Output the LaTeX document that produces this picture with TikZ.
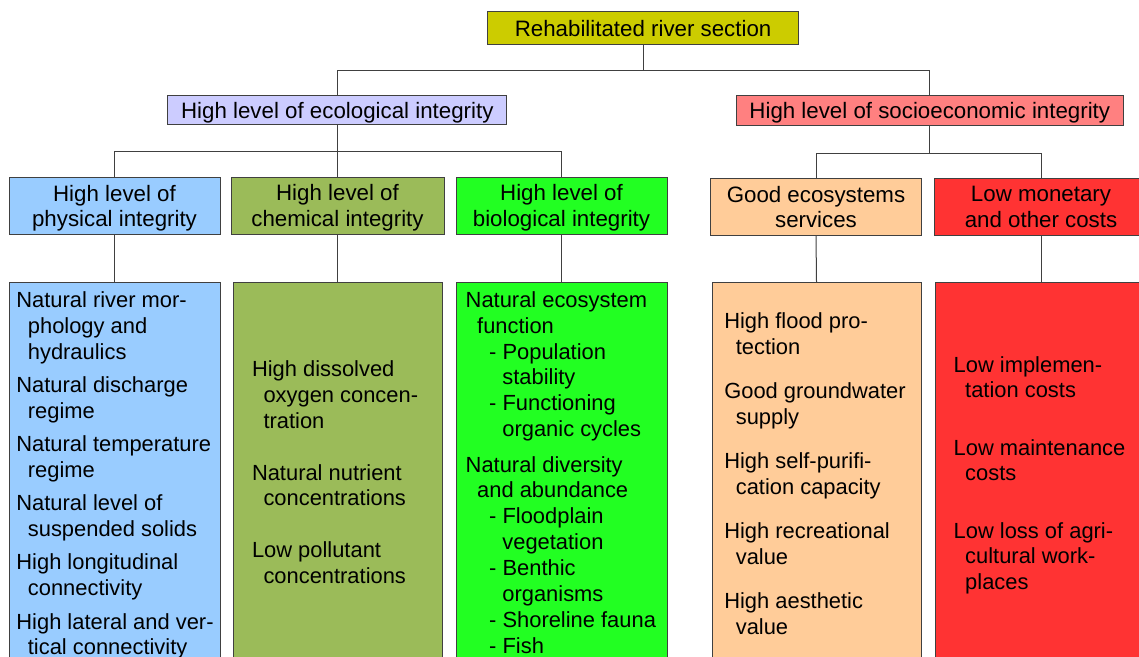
\documentclass[tikz,border=0pt]{standalone}
\usepackage{fontspec}
\setmainfont{Liberation Sans}
\usetikzlibrary{positioning}

\definecolor{rootc}{HTML}{CCCC00}
\definecolor{ecoc}{HTML}{CCCCFF}
\definecolor{socioc}{HTML}{FF8080}
\definecolor{physc}{HTML}{99CCFF}
\definecolor{chemc}{HTML}{9BBB59}
\definecolor{bioc}{HTML}{22FF22}
\definecolor{servc}{HTML}{FFCC99}
\definecolor{costc}{HTML}{FF3333}

% indents for the list lines
\newcommand{\indA}{\hspace*{11.5pt}}
\newcommand{\indB}{\hspace*{23.5pt}}
\newcommand{\indC}{\hspace*{36.7pt}}

\begin{document}
\begin{tikzpicture}[x=1pt, y=-1pt, line cap=rect,
  box/.style={draw=black!75, line width=1pt, inner sep=0pt, text depth=0pt,
    align=center, font=\fontsize{22.3}{25.8}\selectfont},
  listbox/.style={draw=black!75, line width=1pt, minimum height=420pt, anchor=north},
  listtext/.style={inner sep=0pt, align=left, font=\fontsize{21.9}{25.9}\selectfont},
  link/.style={draw=black!75, line width=1pt}]

\useasboundingbox (0,0) rectangle (1139,656);
\clip (0,0) rectangle (1139,656);

% --- layout helpers ---
\def\PX{114.5}   % physical column x
\def\CX{337.5}   % chemical column x
\def\BX{561.5}   % biological column x
\def\SX{816.5}   % services column x
\def\KX{1041}    % costs column x

% --- top levels ---
\node[box, fill=rootc, minimum width=311pt, minimum height=33pt]
  (root) at (643.1,27.5) {\raisebox{-1pt}{Rehabilitated river section}};
\node[box, fill=ecoc, minimum width=339pt, minimum height=29.3pt]
  (eco) at (337.3,109.7) {\raisebox{-1.2pt}{High level of ecological integrity}};
\node[box, fill=socioc, minimum width=386.5pt, minimum height=30.5pt]
  (socio) at (929.8,110.3) {\raisebox{-1pt}{High level of socioeconomic integrity}};

% --- column headers ---
\node[box, fill=physc, minimum width=211pt, minimum height=56.6pt]
  (phys) at (\PX,206) {High level of\\physical integrity};
\node[box, fill=chemc, minimum width=213pt, minimum height=57pt]
  (chem) at (\CX,205.5) {High level of\\chemical integrity};
\node[box, fill=bioc, minimum width=211pt, minimum height=57pt]
  (bio) at (\BX,205.5) {High level of\\biological integrity};
\node[box, fill=servc, minimum width=211.7pt, minimum height=57pt]
  (serv) at (816,207) {Good ecosystems\\services};
\node[box, fill=costc, minimum width=213pt, minimum height=57pt]
  (cost) at (\KX,207) {Low monetary\\and other costs};

% --- list boxes ---
\node[listbox, fill=physc, minimum width=211pt] (physlist) at (\PX,282) {};
\node[listbox, fill=chemc, minimum width=209pt] (chemlist) at (\CX,282) {};
\node[listbox, fill=bioc, minimum width=211pt] (biolist) at (\BX,282) {};
\node[listbox, fill=servc, minimum width=209pt] (servlist) at (\SX,282) {};
\node[listbox, fill=costc, minimum width=211pt] (costlist) at (\KX,282) {};

% --- tree lines ---
\foreach \c in {eco,socio}
  \draw[link] (root.south) -- ++(0,26) -| (\c.north);
\foreach \c in {phys,chem,bio}
  \draw[link] (eco.south) -- ++(0,27) -| (\c.north);
\foreach \c in {serv,cost}
  \draw[link] (socio.south) -- ++(0,27) -| (\c.north);
\foreach \c in {phys,chem,bio,serv,cost}
  \draw[link] (\c.south) -- (\c list.north);

% --- list texts ---
\node[listtext, below right=9.6pt and 7.7pt of physlist.north west] (phystext) {%
  Natural river mor-\\ \indA phology and\\ \indA hydraulics\\[7.3pt]
  Natural discharge\\ \indA regime\\[7.3pt]
  Natural temperature\\ \indA regime\\[7.3pt]
  Natural level of\\ \indA suspended solids\\[7.3pt]
  High longitudinal\\ \indA connectivity\\[7.3pt]
  High lateral and ver-\\ \indA tical connectivity};

\node[listtext, below right=78.3pt and 19.3pt of chemlist.north west] (chemtext) {%
  High dissolved\\ \indA oxygen concen-\\ \indA tration\\[26pt]
  Natural nutrient\\ \indA concentrations\\[26pt]
  Low pollutant\\ \indA concentrations};

\node[listtext, below right=9.2pt and 10pt of biolist.north west] (biotext) {%
  Natural ecosystem\\ \indA function\\
  \indB- Population\\ \indC stability\\
  \indB- Functioning\\ \indC organic cycles\\[9.4pt]
  Natural diversity\\ \indA and abundance\\
  \indB- Floodplain\\ \indC vegetation\\
  \indB- Benthic\\ \indC organisms\\
  \indB- Shoreline fauna\\
  \indB- Fish};

\node[listtext, below right=30.3pt and 12.6pt of servlist.north west] (servtext) {%
  High flood pro-\\ \indA tection\\[18.2pt]
  Good groundwater\\ \indA supply\\[18.2pt]
  High self-purifi-\\ \indA cation capacity\\[18.2pt]
  High recreational\\ \indA value\\[18.2pt]
  High aesthetic\\ \indA value};

\node[listtext, below right=74pt and 18.5pt of costlist.north west] (costtext) {%
  Low implemen-\\ \indA tation costs\\[31.2pt]
  Low maintenance\\ \indA costs\\[31.2pt]
  Low loss of agri-\\ \indA cultural work-\\ \indA places};

\end{tikzpicture}
\end{document}
